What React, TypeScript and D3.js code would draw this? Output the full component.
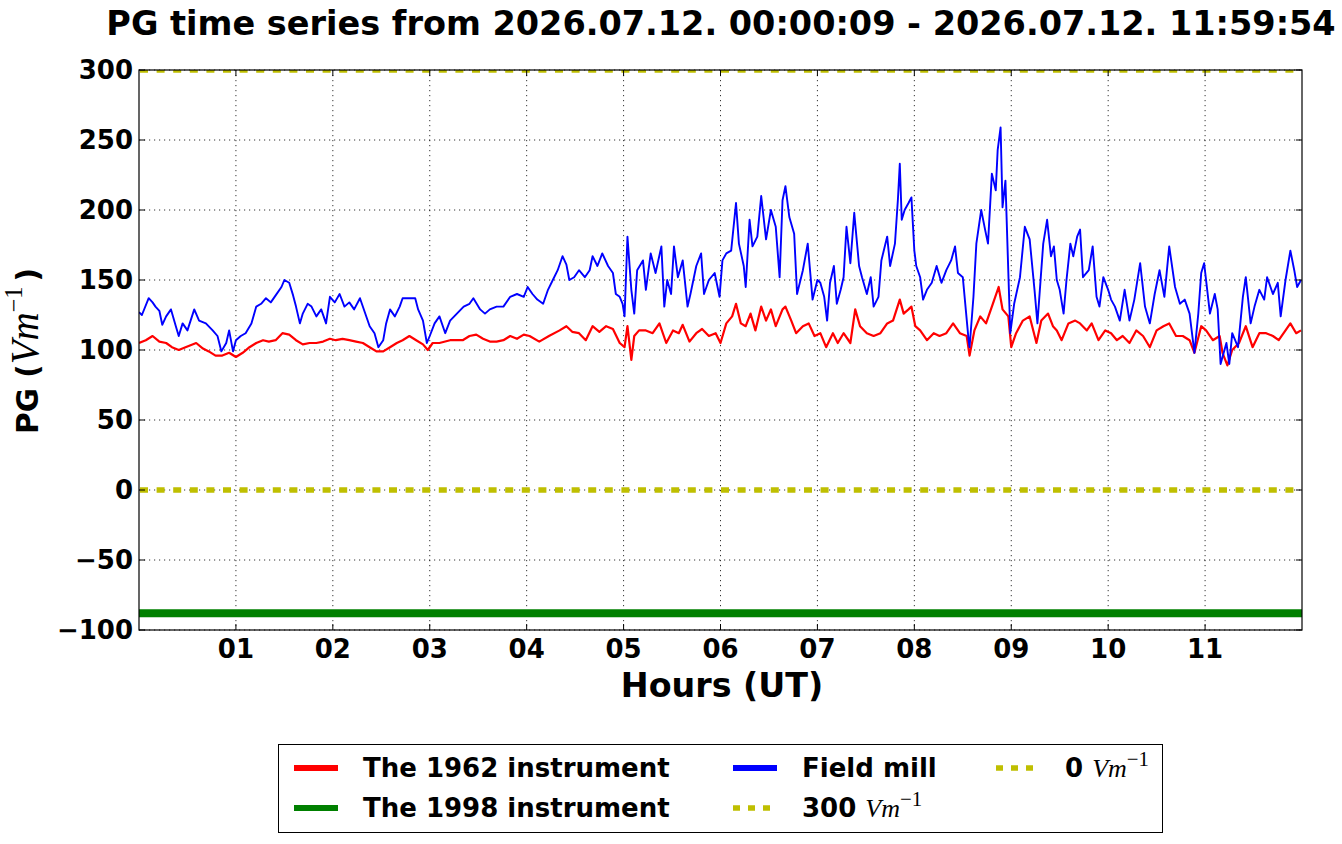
import React from "react";
import * as d3 from "d3";

// readings taken off the chart: [hour (UT), PG in V/m]
const fieldMill: [number, number][] = [
  [0.0, 127], [0.03, 125], [0.1, 137], [0.14, 134], [0.17, 131], [0.21, 128], [0.24, 118], [0.28, 124],
  [0.33, 129], [0.38, 117], [0.41, 110], [0.45, 119], [0.5, 114], [0.57, 129], [0.62, 121], [0.69, 119],
  [0.76, 114], [0.81, 110], [0.85, 99], [0.9, 105], [0.93, 114], [0.97, 99], [1.0, 107], [1.05, 110],
  [1.1, 112], [1.16, 119], [1.21, 131], [1.26, 133], [1.31, 137], [1.36, 134], [1.41, 139], [1.47, 145],
  [1.5, 150], [1.55, 148], [1.59, 139], [1.62, 131], [1.66, 119], [1.69, 126], [1.74, 133], [1.78, 131],
  [1.83, 124], [1.88, 129], [1.93, 119], [1.97, 138], [2.02, 134], [2.07, 140], [2.12, 131], [2.17, 134],
  [2.22, 129], [2.28, 137], [2.33, 127], [2.38, 117], [2.43, 112], [2.47, 102], [2.52, 107], [2.55, 119],
  [2.59, 129], [2.64, 124], [2.69, 131], [2.72, 137], [2.79, 137], [2.85, 137], [2.88, 129], [2.93, 121],
  [2.97, 105], [3.0, 110], [3.05, 119], [3.1, 124], [3.16, 112], [3.21, 121], [3.28, 126], [3.35, 131],
  [3.41, 133], [3.45, 137], [3.52, 129], [3.57, 126], [3.62, 129], [3.69, 131], [3.76, 131], [3.83, 138],
  [3.9, 140], [3.97, 138], [4.01, 145], [4.06, 140], [4.11, 136], [4.17, 133], [4.22, 143], [4.27, 150],
  [4.32, 157], [4.37, 167], [4.41, 161], [4.44, 150], [4.49, 152], [4.54, 157], [4.6, 152], [4.65, 157],
  [4.68, 167], [4.73, 160], [4.78, 169], [4.84, 160], [4.89, 155], [4.92, 140], [4.96, 138], [4.99, 133],
  [5.01, 124], [5.04, 181], [5.08, 143], [5.11, 126], [5.14, 157], [5.2, 164], [5.23, 143], [5.28, 169],
  [5.33, 155], [5.39, 174], [5.42, 131], [5.45, 150], [5.49, 140], [5.52, 174], [5.56, 152], [5.61, 164],
  [5.66, 131], [5.69, 140], [5.75, 160], [5.8, 169], [5.83, 140], [5.88, 150], [5.94, 155], [5.99, 138],
  [6.02, 164], [6.06, 169], [6.11, 171], [6.16, 205], [6.19, 176], [6.24, 160], [6.26, 145], [6.3, 193],
  [6.33, 174], [6.38, 181], [6.42, 210], [6.47, 179], [6.52, 200], [6.57, 188], [6.61, 152], [6.64, 207],
  [6.67, 217], [6.71, 195], [6.76, 183], [6.79, 140], [6.85, 157], [6.9, 176], [6.95, 136], [7.0, 150],
  [7.03, 148], [7.07, 138], [7.1, 121], [7.13, 148], [7.17, 160], [7.2, 133], [7.24, 143], [7.27, 152],
  [7.3, 188], [7.34, 162], [7.38, 198], [7.43, 160], [7.46, 152], [7.51, 140], [7.55, 152], [7.58, 131],
  [7.63, 138], [7.66, 164], [7.72, 181], [7.75, 160], [7.8, 176], [7.83, 207], [7.85, 233], [7.87, 193],
  [7.9, 200], [7.94, 205], [7.97, 209], [8.0, 171], [8.02, 160], [8.06, 152], [8.09, 136], [8.13, 143],
  [8.18, 148], [8.23, 160], [8.28, 148], [8.33, 157], [8.38, 164], [8.42, 174], [8.45, 155], [8.5, 152],
  [8.56, 107], [8.57, 102], [8.61, 138], [8.64, 176], [8.69, 200], [8.73, 186], [8.76, 176], [8.8, 226],
  [8.84, 214], [8.86, 243], [8.89, 259], [8.91, 202], [8.94, 221], [8.97, 155], [8.99, 112], [9.03, 133],
  [9.09, 152], [9.14, 188], [9.19, 179], [9.24, 143], [9.27, 119], [9.33, 176], [9.37, 193], [9.41, 167],
  [9.44, 174], [9.47, 150], [9.5, 143], [9.54, 126], [9.57, 150], [9.61, 176], [9.64, 167], [9.68, 181],
  [9.71, 186], [9.74, 152], [9.8, 157], [9.84, 174], [9.88, 138], [9.91, 131], [9.95, 152], [10.0, 143],
  [10.03, 136], [10.07, 131], [10.12, 121], [10.17, 143], [10.22, 121], [10.27, 136], [10.33, 162], [10.38, 131],
  [10.43, 119], [10.48, 140], [10.53, 157], [10.58, 138], [10.63, 174], [10.69, 145], [10.74, 133], [10.79, 136],
  [10.84, 126], [10.89, 98], [10.93, 126], [10.96, 155], [10.99, 162], [11.05, 126], [11.1, 140], [11.13, 129],
  [11.16, 90], [11.22, 105], [11.25, 90], [11.28, 112], [11.34, 102], [11.39, 138], [11.42, 152], [11.47, 119],
  [11.51, 131], [11.56, 143], [11.61, 136], [11.64, 152], [11.7, 140], [11.75, 148], [11.78, 124], [11.83, 150],
  [11.88, 171], [11.92, 157], [11.95, 145], [11.99, 150],
];

const instrument1962: [number, number][] = [
  [0.0, 105], [0.07, 107], [0.14, 110], [0.21, 106], [0.28, 105], [0.34, 102], [0.41, 100], [0.48, 102],
  [0.59, 105], [0.66, 101], [0.72, 99], [0.79, 96], [0.86, 96], [0.93, 98], [1.0, 95], [1.07, 98],
  [1.14, 102], [1.21, 105], [1.28, 107], [1.34, 106], [1.41, 107], [1.48, 112], [1.55, 111], [1.62, 107],
  [1.69, 104], [1.76, 105], [1.83, 105], [1.9, 106], [1.97, 108], [2.03, 107], [2.1, 108], [2.17, 107],
  [2.24, 106], [2.31, 105], [2.38, 102], [2.45, 99], [2.52, 99], [2.59, 102], [2.66, 105], [2.72, 107],
  [2.79, 110], [2.86, 107], [2.93, 104], [2.98, 100], [3.03, 105], [3.1, 105], [3.21, 107], [3.28, 107],
  [3.34, 107], [3.41, 110], [3.48, 111], [3.55, 108], [3.62, 106], [3.69, 106], [3.76, 107], [3.83, 110],
  [3.9, 108], [3.97, 111], [4.03, 110], [4.13, 106], [4.23, 110], [4.34, 114], [4.41, 117], [4.47, 113],
  [4.54, 112], [4.61, 107], [4.68, 117], [4.75, 113], [4.82, 117], [4.89, 115], [4.96, 105], [5.01, 102],
  [5.04, 117], [5.08, 93], [5.11, 110], [5.16, 114], [5.23, 114], [5.3, 112], [5.37, 119], [5.44, 105],
  [5.51, 114], [5.57, 112], [5.61, 118], [5.68, 106], [5.75, 112], [5.81, 115], [5.88, 110], [5.95, 112],
  [6.0, 105], [6.06, 119], [6.12, 124], [6.16, 133], [6.21, 119], [6.26, 117], [6.31, 126], [6.36, 114],
  [6.42, 131], [6.47, 121], [6.52, 129], [6.57, 117], [6.64, 129], [6.67, 131], [6.73, 121], [6.78, 112],
  [6.85, 117], [6.91, 119], [6.97, 110], [7.03, 112], [7.09, 102], [7.16, 112], [7.21, 105], [7.27, 112],
  [7.34, 105], [7.39, 129], [7.44, 117], [7.51, 112], [7.58, 110], [7.65, 112], [7.72, 119], [7.78, 121],
  [7.85, 136], [7.89, 126], [7.94, 129], [7.97, 131], [8.01, 117], [8.06, 114], [8.13, 107], [8.2, 112],
  [8.26, 110], [8.33, 112], [8.4, 119], [8.47, 112], [8.54, 110], [8.57, 96], [8.62, 114], [8.68, 124],
  [8.74, 119], [8.81, 133], [8.87, 145], [8.91, 129], [8.97, 124], [9.0, 102], [9.05, 112], [9.12, 121],
  [9.19, 124], [9.26, 105], [9.31, 121], [9.38, 126], [9.43, 117], [9.47, 114], [9.52, 107], [9.59, 119],
  [9.66, 121], [9.71, 119], [9.78, 114], [9.83, 119], [9.9, 107], [9.97, 114], [10.03, 112], [10.09, 107],
  [10.15, 110], [10.22, 105], [10.29, 114], [10.36, 110], [10.43, 102], [10.5, 114], [10.57, 117], [10.63, 119],
  [10.7, 110], [10.77, 110], [10.84, 107], [10.89, 98], [10.96, 117], [11.01, 114], [11.08, 107], [11.15, 110],
  [11.18, 98], [11.23, 89], [11.28, 100], [11.35, 105], [11.42, 117], [11.49, 102], [11.56, 112], [11.63, 112],
  [11.7, 110], [11.76, 107], [11.83, 114], [11.88, 119], [11.94, 112], [11.99, 114],
];

const instrument1998: [number, number][] = [
  [0.0, -88],
  [12.0, -88],
];

const referenceLevels = [300, 0];
const hourTicks = [1, 2, 3, 4, 5, 6, 7, 8, 9, 10, 11];
const hourLabels = ["01", "02", "03", "04", "05", "06", "07", "08", "09", "10", "11"];
const pgTicks = [-100, -50, 0, 50, 100, 150, 200, 250, 300];

const W = 1342;
const H = 844;
const plot = { left: 139, right: 1302, top: 70, bottom: 630 };

const SANS = "'DejaVu Sans', sans-serif";
const MATH = "'Liberation Serif', 'DejaVu Serif', serif";
const OLIVE = "#bfbf00";

const x = d3.scaleLinear().domain([0, 12]).range([plot.left, plot.right]);
const y = d3.scaleLinear().domain([-100, 300]).range([plot.bottom, plot.top]);

const line = d3
  .line<[number, number]>()
  .x((d) => x(d[0]))
  .y((d) => y(d[1]));

// italic "Vm" with a raised "−1", the way mathtext draws it
const VmUnit: React.FC<{ size: number; sup?: number }> = ({ size, sup = 0.8 }) => (
  <>
    <tspan fontFamily={MATH} fontStyle="italic" fontWeight="normal" fontSize={size}>
      Vm
    </tspan>
    <tspan fontFamily={MATH} fontWeight="normal" fontSize={size * sup} dy={-size * 0.42}>
      −1
    </tspan>
  </>
);

const App: React.FC = () => {
  const legendRows = [
    { x: 294, y: 768, color: "#ff0000", dotted: false, label: "The 1962 instrument", unit: false },
    { x: 294, y: 808, color: "#008000", dotted: false, label: "The 1998 instrument", unit: false },
    { x: 733, y: 768, color: "#0000ff", dotted: false, label: "Field mill", unit: false },
    { x: 733, y: 808, color: OLIVE, dotted: true, label: "300 ", unit: true },
    { x: 996, y: 768, color: OLIVE, dotted: true, label: "0 ", unit: true },
  ];

  return (
    <svg
      width={W}
      height={H}
      style={{ position: "absolute", left: 0, top: 0, background: "#fff" }}
      fontFamily={SANS}
    >
      <rect x={0} y={0} width={W} height={H} fill="#fff" />

      {/* title */}
      <text x={721} y={35} textAnchor="middle" fontSize={33.5} fontWeight="bold">
        PG time series from 2026.07.12. 00:00:09 - 2026.07.12. 11:59:54
      </text>

      {/* grid */}
      <g stroke="#000" strokeWidth={0.8} strokeDasharray="1.2,3.8">
        {hourTicks.map((h) => (
          <line key={`gx${h}`} x1={x(h)} x2={x(h)} y1={plot.top} y2={plot.bottom} />
        ))}
        {pgTicks.map((v) => (
          <line key={`gy${v}`} x1={plot.left} x2={plot.right} y1={y(v)} y2={y(v)} />
        ))}
      </g>

      {/* series */}
      <clipPath id="plotClip">
        <rect x={plot.left} y={plot.top} width={plot.right - plot.left} height={plot.bottom - plot.top} />
      </clipPath>
      <g clipPath="url(#plotClip)" fill="none">
        <path d={line(instrument1962) ?? ""} stroke="#ff0000" strokeWidth={2.2} strokeLinejoin="round" />
        <path d={line(instrument1998) ?? ""} stroke="#008000" strokeWidth={8} />
        <path d={line(fieldMill) ?? ""} stroke="#0000ff" strokeWidth={1.9} strokeLinejoin="round" />
        {referenceLevels.map((v) => (
          <line
            key={`ref${v}`}
            x1={plot.left}
            x2={plot.right}
            y1={y(v)}
            y2={y(v)}
            stroke={OLIVE}
            strokeWidth={5.5}
            strokeDasharray="8,8.6"
            strokeDashoffset={-1}
          />
        ))}
      </g>

      {/* ticks, inward on all four sides */}
      <g stroke="#000" strokeWidth={1}>
        {hourTicks.map((h) => (
          <g key={`tx${h}`}>
            <line x1={x(h)} x2={x(h)} y1={plot.bottom} y2={plot.bottom - 6} />
            <line x1={x(h)} x2={x(h)} y1={plot.top} y2={plot.top + 6} />
          </g>
        ))}
        {pgTicks.map((v) => (
          <g key={`ty${v}`}>
            <line x1={plot.left} x2={plot.left + 6} y1={y(v)} y2={y(v)} />
            <line x1={plot.right} x2={plot.right - 6} y1={y(v)} y2={y(v)} />
          </g>
        ))}
      </g>

      {/* frame */}
      <rect
        x={plot.left}
        y={plot.top}
        width={plot.right - plot.left}
        height={plot.bottom - plot.top}
        fill="none"
        stroke="#000"
        strokeWidth={1.2}
      />

      {/* tick labels */}
      <g fontSize={26} fontWeight="bold">
        {hourTicks.map((h, i) => (
          <text key={`lx${h}`} x={x(h)} y={658} textAnchor="middle">
            {hourLabels[i]}
          </text>
        ))}
        {pgTicks.map((v) => (
          <text key={`ly${v}`} x={133} y={y(v)} dy="0.36em" textAnchor="end">
            {v < 0 ? `−${Math.abs(v)}` : `${v}`}
          </text>
        ))}
      </g>

      {/* axis labels */}
      <text x={722} y={697} textAnchor="middle" fontSize={33.3} fontWeight="bold">
        Hours (UT)
      </text>
      <text transform="translate(38,351) rotate(-90)" textAnchor="middle" fontSize={29.5} fontWeight="bold">
        PG (<tspan dx={3} />
        <VmUnit size={39} sup={0.62} />
        <tspan dx={5} dy={39 * 0.42}>)</tspan>
      </text>

      {/* legend */}
      <rect x={278.5} y={744.5} width={884} height={88} fill="#fff" stroke="#000" strokeWidth={1} />
      {legendRows.map((r) => (
        <g key={r.label + r.x}>
          <line
            x1={r.x}
            x2={r.x + 44}
            y1={r.y}
            y2={r.y}
            stroke={r.color}
            strokeWidth={r.dotted ? 5.5 : 6}
            strokeDasharray={r.dotted ? "7,8" : undefined}
          />
          <text x={r.x + 69} y={r.y} dy="0.36em" fontSize={26} fontWeight="bold">
            {r.label}
            {r.unit && <VmUnit size={26} />}
          </text>
        </g>
      ))}
    </svg>
  );
};

export default App;
